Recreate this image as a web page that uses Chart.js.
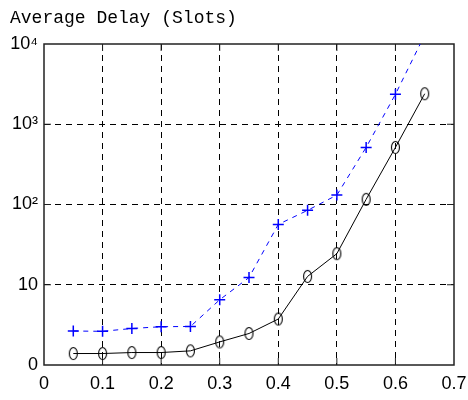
<!DOCTYPE html>
<html>
<head>
<meta charset="utf-8">
<script src="https://cdn.jsdelivr.net/npm/chart.js@4.4.0/dist/chart.umd.min.js"></script>
<style>
  html, body { margin: 0; padding: 0; background: #fff; }
  #wrap { width: 468px; height: 400px; }
</style>
</head>
<body>
<div id="wrap"><canvas id="delayChart" width="468" height="400"></canvas></div>
<script>
const loads = [0.05, 0.1, 0.15, 0.2, 0.25, 0.3, 0.35, 0.4, 0.45, 0.5, 0.55, 0.6, 0.65];
const delayCircle = [1.39, 1.39, 1.43, 1.43, 1.5, 1.94, 2.47, 3.74, 12.7, 24.4, 116, 515, 2400];
const delayPlus = [2.65, 2.63, 2.85, 3.0, 3.02, 6.5, 12.3, 56.5, 84.6, 131, 515, 2360, 13000];
const yTicks = [1, 10, 100, 1000, 10000];
const yTickLabels = ['0', '10', '10\u00b2', '10\u00b3', '10\u2074'];

const ctx = document.getElementById('delayChart').getContext('2d');

function toPoints(ys) {
  return loads.map((x, i) => ({ x: x, y: ys[i] }));
}

// the 'o' markers in the original are a bit taller than wide
function ovalMarker() {
  const c = document.createElement('canvas');
  c.width = 11; c.height = 15;
  const g = c.getContext('2d');
  g.strokeStyle = '#000';
  g.lineWidth = 1.1;
  g.beginPath();
  g.ellipse(5.5, 7.5, 4, 6, 0, 0, Math.PI * 2);
  g.stroke();
  return c;
}

// frame around the plot plus the small inner ticks
const frame = {
  id: 'frame',
  beforeDatasetsDraw(chart) {
    const { ctx, chartArea: a, scales } = chart;
    ctx.save();
    ctx.strokeStyle = '#222';
    ctx.lineWidth = 1;
    ctx.beginPath();
    for (let i = 1; i < 7; i++) {
      const px = scales.x.getPixelForValue(i / 10);
      ctx.moveTo(px, a.top); ctx.lineTo(px, a.top + 7);
      ctx.moveTo(px, a.bottom); ctx.lineTo(px, a.bottom - 7);
    }
    yTicks.slice(1, -1).forEach(v => {
      const py = scales.y.getPixelForValue(v);
      ctx.moveTo(a.left, py); ctx.lineTo(a.left + 7, py);
      ctx.moveTo(a.right, py); ctx.lineTo(a.right - 7, py);
    });
    ctx.stroke();
    ctx.lineWidth = 1.5;
    ctx.strokeRect(a.left, a.top, a.right - a.left, a.bottom - a.top);
    ctx.restore();
  },
  afterDraw(chart) {
    const c = chart.ctx;
    c.save();
    c.fillStyle = '#000';
    c.font = '18px "Liberation Mono"';
    c.textBaseline = 'alphabetic';
    c.fillText('Average Delay (Slots)', 10, 23);
    c.restore();
  }
};

new Chart(ctx, {
  type: 'line',
  data: {
    datasets: [
      {
        data: toPoints(delayPlus),
        borderColor: '#0000ff',
        borderWidth: 1,
        borderDash: [5, 5],
        pointStyle: 'cross',
        pointRadius: 5.5,
        pointBorderWidth: 1.5,
        pointBorderColor: '#0000ff',
        clip: 0
      },
      {
        data: toPoints(delayCircle),
        borderColor: '#000',
        borderWidth: 1,
        pointStyle: ovalMarker(),
        clip: 0
      }
    ]
  },
  options: {
    responsive: false,
    animation: false,
    layout: { padding: { top: 44, right: 14, left: 0, bottom: 0 } },
    plugins: { legend: { display: false }, tooltip: { enabled: false } },
    scales: {
      x: {
        type: 'linear',
        min: 0,
        max: 0.7,
        afterFit(scale) {
          scale.height = 35;
          scale.paddingLeft = 0;
          scale.paddingRight = 0;
        },
        ticks: {
          stepSize: 0.1,
          padding: 8,
          color: '#000',
          font: { family: 'Liberation Sans', size: 18 },
          callback: v => String(Math.round(v * 10) / 10)
        },
        grid: {
          drawTicks: false,
          color: ctx => (ctx.tick && ctx.index > 0 && ctx.index < 7) ? '#000' : 'rgba(0,0,0,0)',
          lineWidth: 1
        },
        border: { display: false, dash: [6, 5] }
      },
      y: {
        type: 'logarithmic',
        min: 1,
        max: 10000,
        afterFit(scale) { scale.width = 44; },
        afterBuildTicks(scale) { scale.ticks = yTicks.map(v => ({ value: v })); },
        ticks: {
          padding: 6,
          color: '#000',
          font: { family: 'Liberation Sans', size: 18 },
          callback: (v) => yTickLabels[yTicks.indexOf(v)]
        },
        grid: {
          drawTicks: false,
          color: ctx => (ctx.tick && ctx.tick.value > 1 && ctx.tick.value < 10000) ? '#000' : 'rgba(0,0,0,0)',
          lineWidth: 1
        },
        border: { display: false, dash: [6, 5] }
      }
    }
  },
  plugins: [frame]
});
</script>
</body>
</html>
